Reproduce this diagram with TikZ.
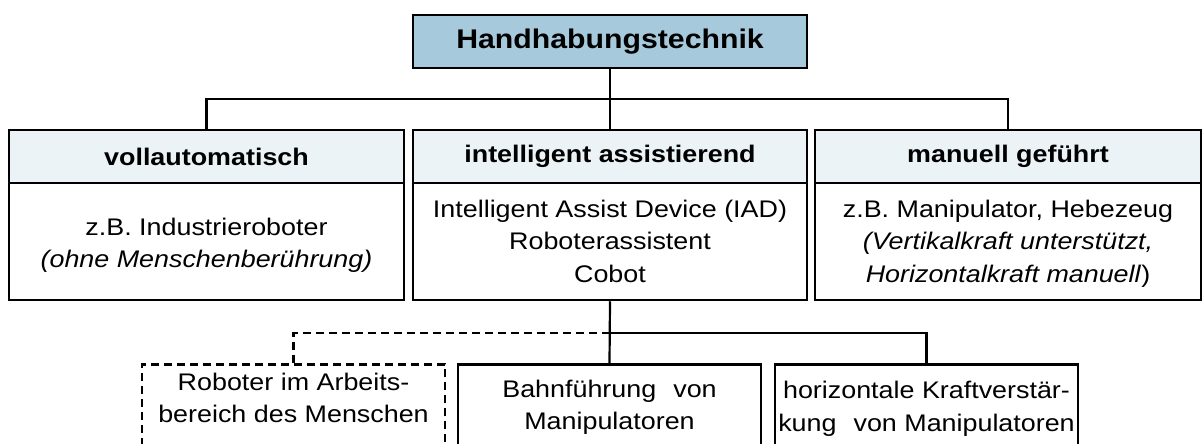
\documentclass[tikz,border=0pt]{standalone}
\usepackage{fontspec}
\setmainfont{Liberation Sans}[FakeStretch=1.12]
\definecolor{topfill}{HTML}{A6CADB}
\definecolor{hdrfill}{HTML}{EBF3F7}
\begin{document}
\begin{tikzpicture}[x=1pt,y=-1pt,
  font=\fontsize{24}{32.5}\selectfont,
  box/.style={draw, rectangle, line width=2.5pt, inner sep=0pt},
  topbox/.style={box, fill=topfill, font=\bfseries\fontsize{27}{30}\selectfont},
  hdrbox/.style={box, fill=hdrfill, minimum height=53pt, font=\bfseries\fontsize{24}{30}\selectfont},
  bodybox/.style={box, minimum height=117pt},
  subbox/.style={box, minimum width=303pt, minimum height=100pt, anchor=north},
  dashbox/.style={subbox, dash pattern=on 8pt off 5pt},
  txt/.style={align=center, inner sep=0pt, anchor=north},
  conn/.style={line width=2.2pt},
  dconn/.style={conn, dash pattern=on 8pt off 5pt}]
\useasboundingbox (0,0) rectangle (1204,444);
\clip (0,0) rectangle (1204,444);

% root
\node[topbox, minimum width=394pt, minimum height=53pt] (top) at (610,41.5) {Handhabungstechnik};

% three categories: header strip and body
\node[hdrbox, minimum width=395pt] (h1) at (206.5,156.5) {vollautomatisch};
\node[hdrbox, minimum width=394pt] (h2) at (610,156.5) {intelligent assistierend};
\node[hdrbox, minimum width=386pt] (h3) at (1008,156.5) {manuell geführt};

\node[bodybox, minimum width=395pt] (b1) at (206.5,241.5) {};
\node[bodybox, minimum width=394pt] (b2) at (610,241.5) {};
\node[bodybox, minimum width=386pt] (b3) at (1008,241.5) {};

\node[txt] (t1) at (206.5,217.5) {z.B. Industrieroboter\\\textit{(ohne Menschenberührung)}};
\node[txt] (t2) at (610,199.5) {Intelligent Assist Device (IAD)\\Roboterassistent\\Cobot};
\node[txt] (t3) at (1008,199.5) {z.B. Manipulator, Hebezeug\\\textit{(Vertikalkraft unterstützt,}\\\textit{Horizontalkraft manuell})};

% sub-categories of the assisting systems
\node[dashbox] (r1) at (293.5,363) {};
\node[subbox] (r2) at (609.5,363) {};
\node[subbox] (r3) at (926.5,363) {};

\node[txt] (s1) at (293.5,372.5) {Roboter im Arbeits-\\bereich des Menschen};
\node[txt] (s2) at (609.5,379.5) {Bahnführung\hspace{0.4em} von\\Manipulatoren};
\node[txt] (s3) at (926.5,381) {horizontale Kraftverstär-\\kung\hspace{0.4em} von Manipulatoren};

% connectors
\coordinate (bus) at (0,99);
\coordinate (bus2) at (0,333);
\draw[conn] (top.south) -- (h2.north);
\draw[conn] (h1.north) -- (h1.north |- bus) -- (h3.north |- bus) -- (h3.north);

\draw[conn] (b2.south) -- (r2.north);
\draw[conn] (b2.south |- bus2) -- (r3.north |- bus2) -- (r3.north);
\draw[dconn] (b2.south |- bus2) -- (r1.north |- bus2) -- (r1.north);
\end{tikzpicture}
\end{document}
